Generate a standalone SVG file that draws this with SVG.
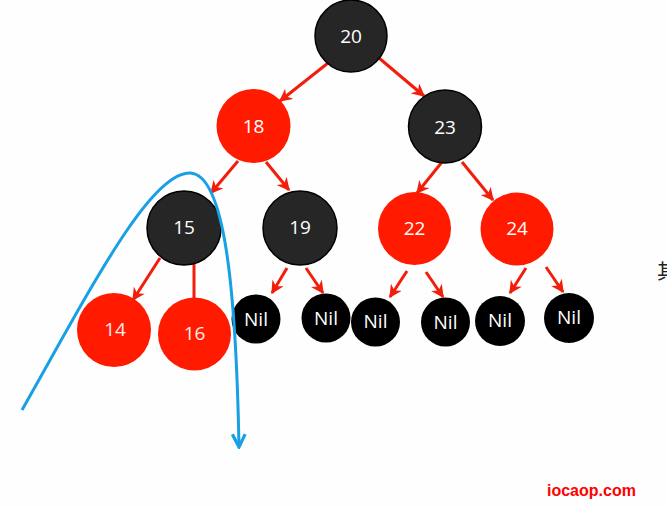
<svg xmlns="http://www.w3.org/2000/svg" width="667" height="507" viewBox="0 0 667 507">
<defs>
<style>
.blk{fill:#262626;stroke:#000;stroke-width:1.5}
.red{fill:#ff1a00}
.nil{fill:#000}
.t{font-family:"Open Sans","Liberation Sans",sans-serif;font-size:19px;fill:#fff;text-anchor:middle}
.tr{fill:#ffecec}
.e{stroke:#f21d0a;stroke-width:3;fill:none;marker-end:url(#ah)}
.e0{stroke:#f21d0a;stroke-width:3;fill:none}
</style>
<marker id="ah" viewBox="0 0 10 10" refX="9" refY="5" markerWidth="13" markerHeight="13" markerUnits="userSpaceOnUse" orient="auto">
<path d="M0,0 L10,5 L0,10 L3,5 z" fill="#f21d0a"/>
</marker>
<marker id="bh" viewBox="0 0 10 10" refX="9" refY="5" markerWidth="16" markerHeight="16" markerUnits="userSpaceOnUse" orient="auto">
<path d="M1,1 L9,5 L1,9" fill="none" stroke="#17a0e3" stroke-width="2"/>
</marker>
</defs>
<rect width="667" height="507" fill="#fdfefd"/>
<g id="connectors">
<line class="e" x1="328" y1="63" x2="280" y2="101"/>
<line class="e" x1="379" y1="58" x2="424" y2="96"/>
<line class="e" x1="238" y1="161" x2="211" y2="193"/>
<line class="e" x1="266" y1="162" x2="289" y2="190"/>
<line class="e" x1="442" y1="162" x2="417" y2="193"/>
<line class="e" x1="462" y1="162" x2="493" y2="200"/>
<line class="e" x1="160" y1="258" x2="133" y2="300"/>
<line class="e0" x1="194" y1="262" x2="194" y2="298"/>
<line class="e" x1="287" y1="268" x2="272" y2="293"/>
<line class="e" x1="306" y1="268" x2="323" y2="293"/>
<line class="e" x1="407" y1="271" x2="390" y2="297"/>
<line class="e" x1="426" y1="272" x2="443" y2="297"/>
<line class="e" x1="526" y1="268" x2="510" y2="293"/>
<line class="e" x1="546" y1="267" x2="563" y2="292"/>
</g>
<g id="n20"><circle class="blk" cx="351" cy="36" r="36"/><text class="t" x="351" y="43">20</text></g>
<g id="n18"><circle class="red" cx="253.5" cy="126" r="37"/><text class="t" x="253.5" y="133">18</text></g>
<g id="n23"><circle class="blk" cx="445" cy="126.5" r="36.5"/><text class="t" x="445" y="133.5">23</text></g>
<g id="n15"><circle class="blk" cx="184" cy="228" r="37"/><text class="t" x="184" y="234">15</text></g>
<g id="n19"><circle class="blk" cx="300" cy="228" r="37"/><text class="t" x="300" y="234">19</text></g>
<g id="n22"><circle class="red" cx="414.5" cy="228.5" r="36.5"/><text class="t" x="414.5" y="235">22</text></g>
<g id="n24"><circle class="red" cx="517" cy="229" r="36.5"/><text class="t" x="517" y="235">24</text></g>
<g id="n14"><circle class="red" cx="114" cy="330" r="37"/><text class="t tr" x="115" y="336">14</text></g>
<g id="n16"><circle class="red" cx="194.5" cy="334" r="36.5"/><text class="t tr" x="194.5" y="340">16</text></g>
<g id="nil1"><circle class="nil" cx="256" cy="319" r="24.5"/><text class="t" x="256" y="326">Nil</text></g>
<g id="nil2"><circle class="nil" cx="326" cy="318" r="24.5"/><text class="t" x="326" y="325">Nil</text></g>
<g id="nil3"><circle class="nil" cx="375.5" cy="322" r="24.5"/><text class="t" x="375.5" y="328">Nil</text></g>
<g id="nil4"><circle class="nil" cx="445.5" cy="322" r="24.5"/><text class="t" x="445.5" y="329">Nil</text></g>
<g id="nil5"><circle class="nil" cx="500" cy="321" r="25"/><text class="t" x="500" y="327">Nil</text></g>
<g id="nil6"><circle class="nil" cx="569" cy="318" r="25"/><text class="t" x="569" y="324">Nil</text></g>
<g id="trace">
<path d="M22,410 C90,290 150,172 190,173 C225,174 236,290 239,447" fill="none" stroke="#17a0e3" stroke-width="3" marker-end="url(#bh)"/>
</g>
<text x="657" y="279" font-family="'Noto Sans CJK SC',sans-serif" font-size="20" fill="#222">其</text>
<text x="547" y="496" font-family="'Liberation Sans',Arial,sans-serif" font-size="16" font-weight="bold" fill="#ff0000">iocaop.com</text>
</svg>
